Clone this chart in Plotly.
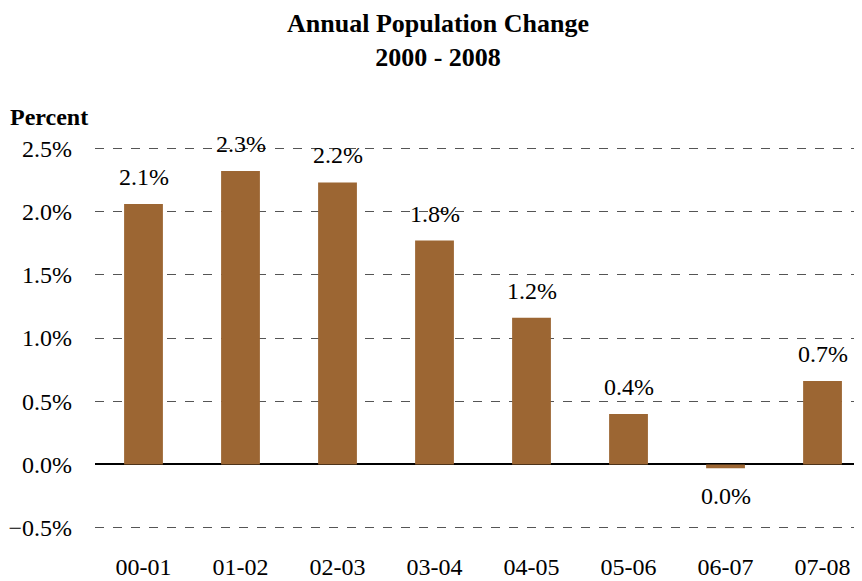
import plotly.graph_objects as go

categories = ["00-01", "01-02", "02-03", "03-04", "04-05", "05-06", "06-07", "07-08"]
values = [0.0206, 0.0232, 0.0223, 0.0177, 0.0116, 0.0040, -0.0003, 0.0066]
y_ticks = [-0.005, 0.0, 0.005, 0.010, 0.015, 0.020, 0.025]

FONT = "'Times New Roman', 'Liberation Serif', 'Tinos', 'Nimbus Roman', 'Noto Serif', 'FreeSerif', 'DejaVu Serif', serif"
BAR_COLOR = "#9C6633"


def label(v):
    s = f"{v * 100:.1f}%"
    return s.replace("-0.0%", "0.0%")


fig = go.Figure()
fig.add_trace(go.Bar(
    x=list(range(len(categories))), y=values, width=0.4,
    marker=dict(color=BAR_COLOR, line=dict(width=0)),
    hoverinfo="skip",
))

for i, v in enumerate(values):
    fig.add_annotation(
        x=i, y=v, text=label(v), showarrow=False,
        xanchor="center", yanchor="middle",
        yshift=27 if v >= 0 else -28,
        font=dict(family=FONT, size=24, color="#000000"),
    )

fig.add_annotation(
    text="<b>Percent</b>", xref="paper", yref="paper",
    x=-0.112, y=1.0, xanchor="left", yanchor="middle", yshift=30,
    borderpad=0,
    showarrow=False, font=dict(family=FONT, size=24, color="#000000"),
)

fig.add_annotation(
    text="<b>Annual Population Change<br>2000 - 2008</b>",
    xref="paper", yref="paper", x=(430 - 87) / 767, y=1.0,
    xanchor="center", yanchor="middle", yshift=107,
    showarrow=False, font=dict(family=FONT, size=26, color="#000000"),
)

fig.update_layout(
    width=854, height=573,
    margin=dict(l=87, r=0, t=139, b=52, autoexpand=False),
    paper_bgcolor="#ffffff", plot_bgcolor="#ffffff",
    showlegend=False,
    xaxis=dict(
        range=[-0.5, 7.407], tickmode="array",
        tickvals=list(range(len(categories))), ticktext=categories,
        showgrid=False, zeroline=False, showline=False, ticks="",
        tickfont=dict(family=FONT, size=24, color="#000000"),
        ticklabelstandoff=21, automargin=False,
    ),
    yaxis=dict(
        range=[-0.0051, 0.0251], tickmode="array", tickvals=y_ticks,
        tickformat=".1%", showgrid=True, gridcolor="#555555",
        griddash="dash", gridwidth=1,
        zeroline=True, zerolinecolor="#000000", zerolinewidth=1.5,
        showline=False, ticks="",
        tickfont=dict(family=FONT, size=24, color="#000000"),
        ticklabelstandoff=22, automargin=False,
    ),
)

fig.write_html("out.html")
